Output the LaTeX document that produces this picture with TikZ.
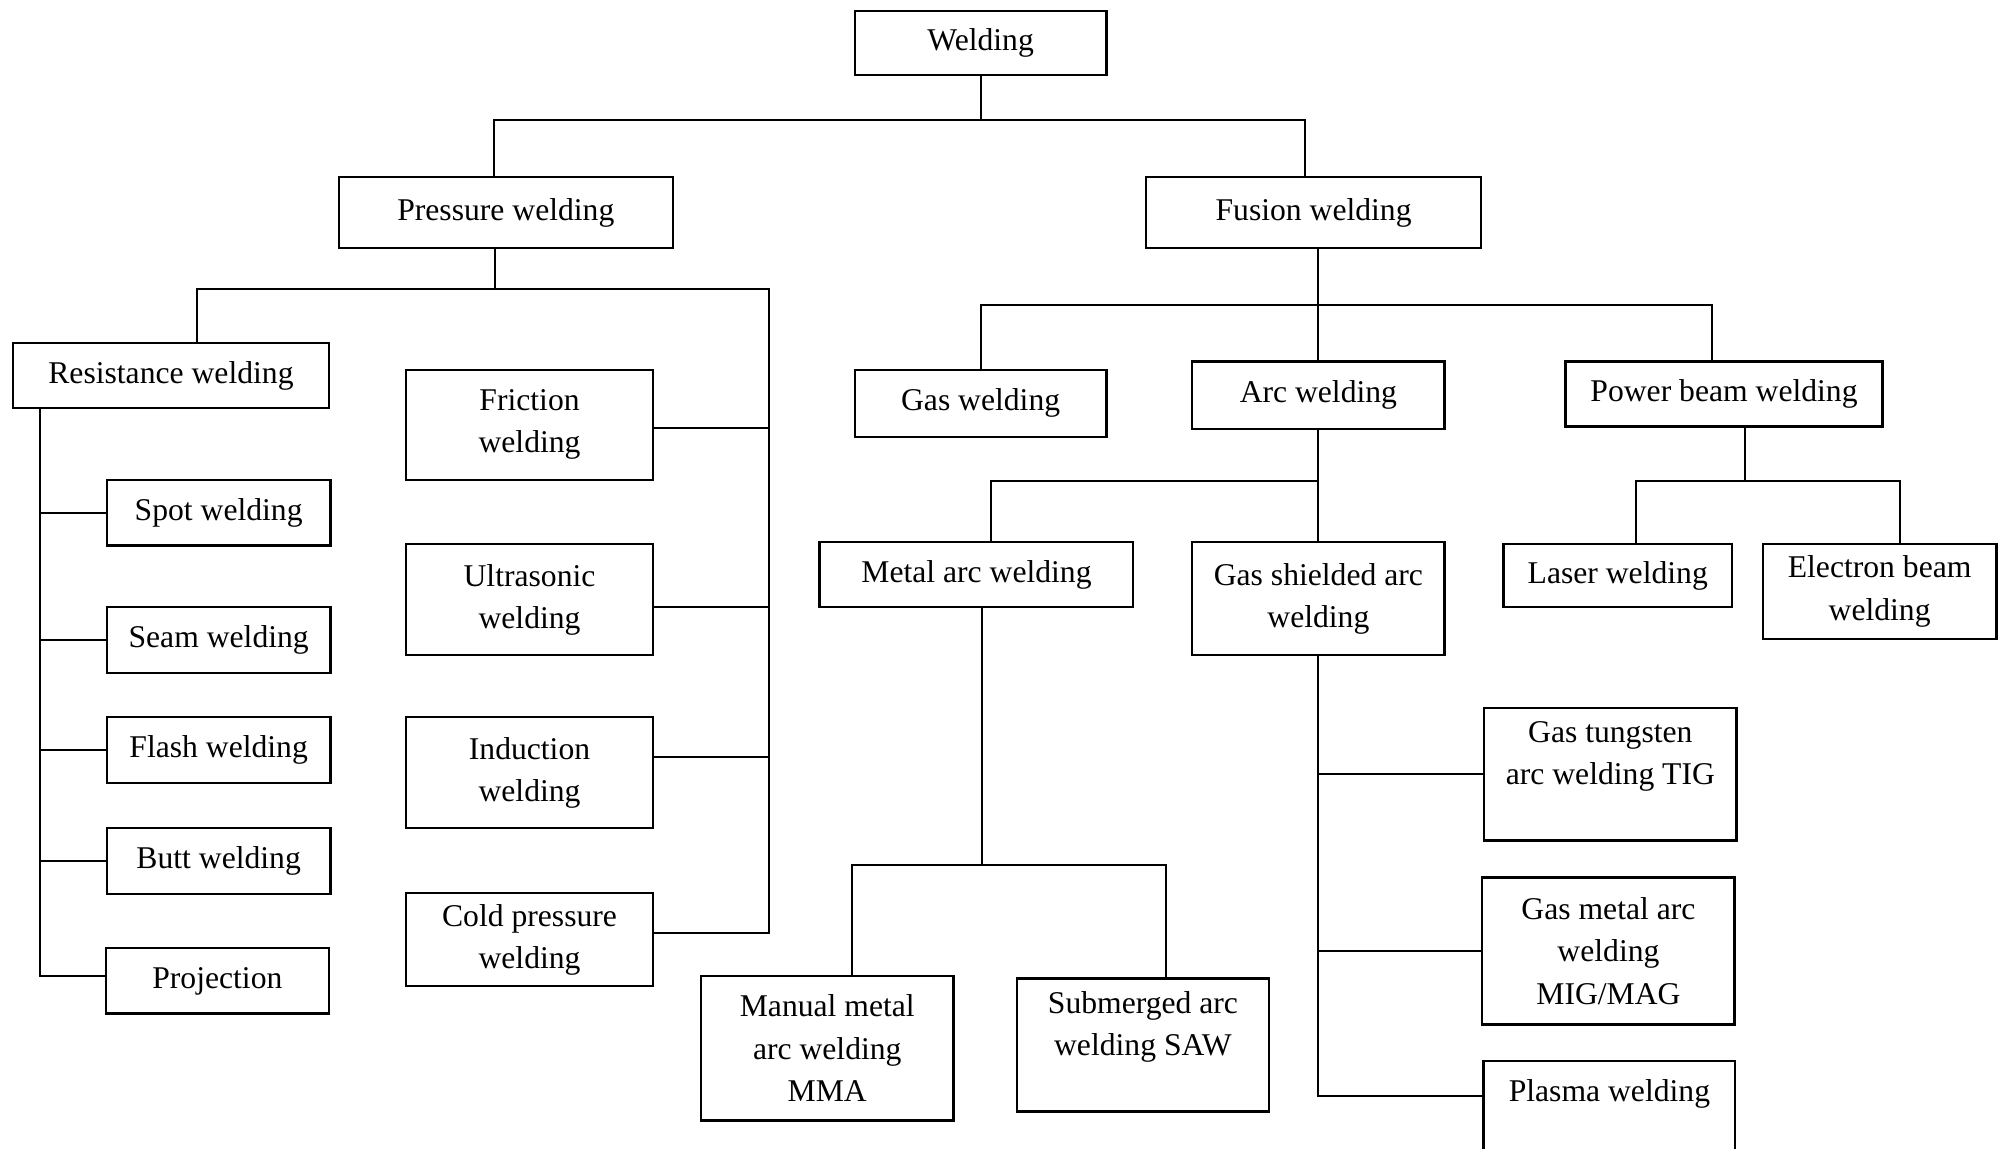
\documentclass[tikz,border=0pt]{standalone}
\usepackage{fontspec}
\setmainfont{Liberation Serif}
\usetikzlibrary{calc}

\newdimen\gu
\gu=0.012806cm
\tikzset{wbox/.style 2 args={draw, line width=0.65pt, inner sep=0pt, align=center,
    minimum width=#1*\gu, minimum height=#2*\gu,
    font=\fontsize{9}{12}\selectfont},
  wline/.style={line width=0.55pt}}

\begin{document}
\begin{tikzpicture}[x=0.012806cm, y=-0.012806cm]
\useasboundingbox (0,0) rectangle (1568,897);
\clip (0,0) rectangle (1568,897);

\node[wbox={196.5}{50.1}] (root) at (765.75,33.65) {Welding};
\node[wbox={261}{55.6}] (pw) at (395,166.1) {Pressure welding};
\node[wbox={261.5}{55.6}] (fw) at (1025.75,166.1) {Fusion welding};

\node[wbox={247}{50.4}] (res) at (133.5,293.2) {Resistance welding};
\node[wbox={174.5}{51.4}] (spot) at (170.75,400.3) {Spot welding};
\node[wbox={174.5}{51.3}] (seam) at (170.75,499.85) {Seam welding};
\node[wbox={174.5}{51.6}] (flash) at (170.75,585.9) {Flash welding};
\node[wbox={174.5}{51.5}] (butt) at (170.75,672.35) {Butt welding};
\node[wbox={174.5}{51}] (proj) at (169.75,766) {Projection};

\node[wbox={193}{85.9}] (fr) at (413.5,331.65) {Friction\\ welding};
\node[wbox={193}{86.7}] (us) at (413.5,468.35) {Ultrasonic\\ welding};
\node[wbox={193}{86.6}] (ind) at (413.5,603.3) {Induction\\ welding};
\node[wbox={193}{72.4}] (cpw) at (413.5,733.8) {Cold pressure\\ welding};

\node[wbox={196.5}{52.6}] (gas) at (765.75,315) {Gas welding};
\node[wbox={197}{52.6}] (arc) at (1029.5,308.7) {Arc welding};
\node[wbox={247.5}{50.6}] (pbw) at (1346.25,307.7) {Power beam welding};

\node[wbox={245}{50.9}] (mtl) at (762.5,448.75) {Metal arc welding};
\node[wbox={197}{88.4}] (gsa) at (1029.5,467.5) {Gas shielded arc\\ welding};
\node[wbox={178.5}{49.5}] (las) at (1263.25,449.45) {Laser welding};
\node[wbox={182.5}{74.3}] (eb) at (1467.75,461.85) {Electron beam\\ welding};

\node[wbox={197}{113}] (mma) at (646,818.5) {Manual metal\\ arc welding\\ MMA};
\node[wbox={197}{104}] (saw) at (892.5,816) {Submerged arc\\ welding SAW\\ ~};

\node[wbox={197}{103.3}] (tig) at (1257.5,604.65) {Gas tungsten\\ arc welding TIG\\ ~};
\node[wbox={197}{114.8}] (mig) at (1256,742.7) {Gas metal arc\\ welding\\ MIG/MAG};
\node[wbox={196.5}{111.6}] (pla) at (1256.75,884.2) {Plasma welding\\ ~\\ ~};

\draw[wline] (root.south) -- ++(0,34.4) coordinate (j1);
\draw[wline] ($(pw.north)+(-9,0)$) |- (j1) -| ($(fw.north)+(-6.75,0)$);

\draw[wline] ($(pw.south)+(-8.5,0)$) -- ++(0,31.8) coordinate (j2);
\coordinate (rb) at (600.5,225.7);
\draw[wline] ($(res.north)+(20.5,0)$) |- (rb) |- ($(cpw.east)+(0,-5)$);
\foreach \n/\d in {fr/2.3, us/5.8, ind/-12.3}
  \draw[wline] ($(\n.east)+(0,\d)$) -- ++(90.5,0);

\coordinate (rs) at ($(res.south west)+(22,0)$);
\draw[wline] (rs) |- ($(proj.west)+(0,-4)$);
\foreach \n in {spot,seam,flash,butt}
  \draw[wline] (\n.west) -- (\n.west -| rs);

\draw[wline] ($(fw.south)+(3.25,0)$) -- ++(0,43.2) coordinate (j4);
\draw[wline] (gas.north) |- (j4) -| ($(pbw.north)+(-9.75,0)$);
\draw[wline] (j4) -- (j4 |- arc.north);

\draw[wline] (arc.south) -- ++(0,39.6) coordinate (j5);
\draw[wline] ($(mtl.north)+(11.5,0)$) |- (j5) -- (gsa.north);

\draw[wline] ($(pbw.south)+(16.25,0)$) -- ++(0,41.6) coordinate (j6);
\draw[wline] ($(las.north)+(14.25,0)$) |- (j6) -| ($(eb.north)+(16.25,0)$);

\draw[wline] ($(mtl.south)+(4.5,0)$) -- ++(0,200.5) coordinate (j7);
\draw[wline] ($(mma.north)+(19,0)$) |- (j7) -| ($(saw.north)+(18,0)$);

\draw[wline] (gsa.south) |- ($(pla.north west)+(0,28.6)$);
\foreach \n in {tig,mig}
  \draw[wline] (\n.west) -- (\n.west -| gsa.south);

\end{tikzpicture}
\end{document}
